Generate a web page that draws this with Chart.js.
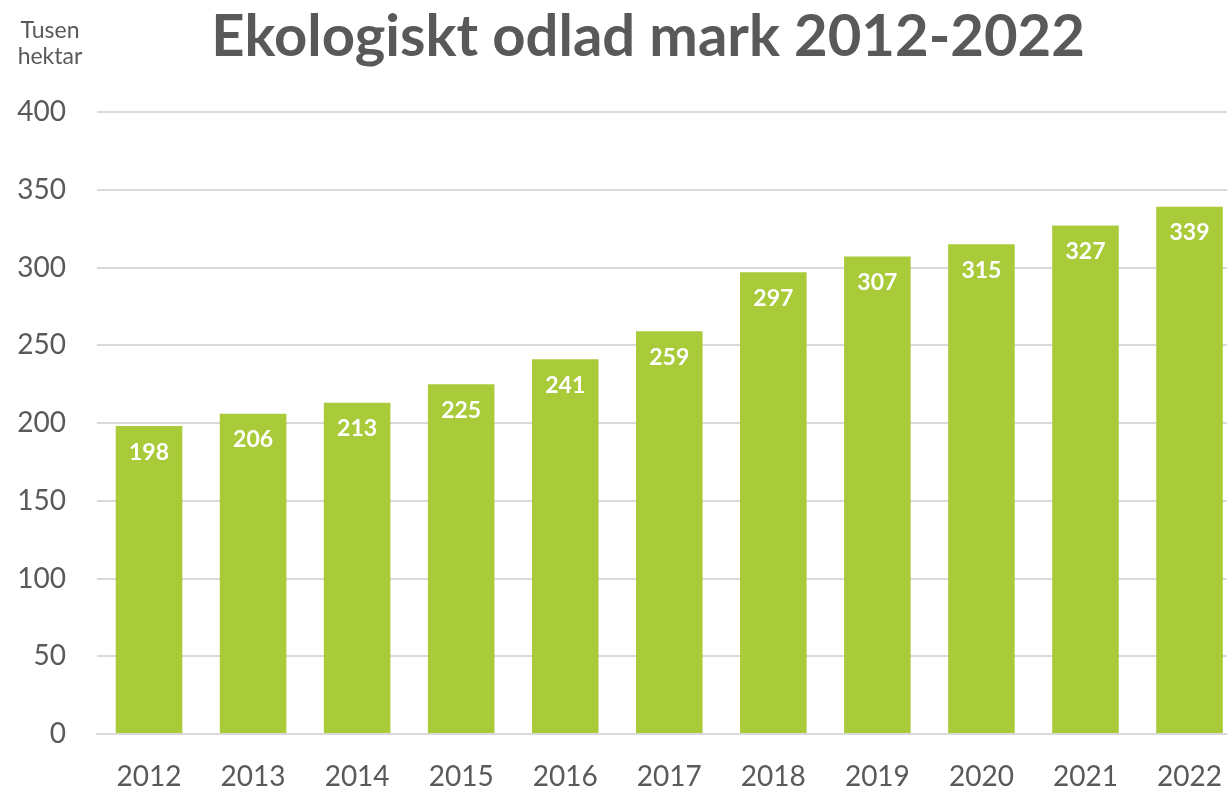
<!DOCTYPE html>
<html>
<head>
<meta charset="utf-8">
<script src="https://cdn.jsdelivr.net/npm/chart.js@4/dist/chart.umd.min.js"></script>
<style>
html,body{margin:0;padding:0;background:#fff;overflow:hidden;}
#wrap{width:1227px;height:787px;position:relative;overflow:hidden;}
#c{position:absolute;left:0;top:0;}
</style>
</head>
<body>
<div id="wrap"><canvas id="c" width="1248" height="787"></canvas></div>
<script>
const categories = ['2012','2013','2014','2015','2016','2017','2018','2019','2020','2021','2022'];
const values = [198,206,213,225,241,259,297,307,315,327,339];
const yTicks = [0,50,100,150,200,250,300,350,400];
const titleText = 'Ekologiskt odlad mark 2012-2022';
const unitLines = ['Tusen','hektar'];

const FONT = 'Lato, "Open Sans", sans-serif';
const GREY = '#595959';

const labelsPlugin = {
  id: 'extras',
  afterDatasetsDraw(chart) {
    const ctx = chart.ctx;
    const meta = chart.getDatasetMeta(0);
    ctx.save();
    ctx.fillStyle = '#ffffff';
    ctx.font = 'bold 23px ' + FONT;
    ctx.textAlign = 'center';
    ctx.textBaseline = 'middle';
    meta.data.forEach((bar, i) => {
      ctx.fillText(String(values[i]), bar.x, bar.y + 26);
    });
    ctx.restore();
  },
  afterDraw(chart) {
    const ctx = chart.ctx;
    ctx.save();
    ctx.fillStyle = GREY;
    ctx.textAlign = 'center';
    ctx.textBaseline = 'alphabetic';
    ctx.font = 'bold 58px ' + FONT;
    ctx.fillText(titleText, 648, 56);
    ctx.font = '23px ' + FONT;
    ctx.fillText(unitLines[0], 50, 38);
    ctx.fillText(unitLines[1], 50, 64);
    ctx.restore();
  }
};

new Chart(document.getElementById('c'), {
  type: 'bar',
  data: {
    labels: categories,
    datasets: [{
      data: values,
      backgroundColor: '#A9CB3A',
      borderWidth: 0,
      barPercentage: 0.64,
      categoryPercentage: 1.0
    }]
  },
  options: {
    responsive: false,
    animation: false,
    devicePixelRatio: 1,
    layout: { padding: { top: 112, right: 0, left: 0, bottom: 0 } },
    plugins: { legend: { display: false }, title: { display: false }, tooltip: { enabled: false } },
    scales: {
      x: {
        grid: { display: false, drawTicks: false },
        border: { display: true, color: '#D9D9D9', width: 2 },
        ticks: { color: GREY, font: { family: FONT, size: 28 }, padding: 26, maxRotation: 0 },
        afterFit(scale) { scale.height = 53; }
      },
      y: {
        min: 0, max: 400,
        afterBuildTicks(scale) { scale.ticks = yTicks.map(v => ({ value: v })); },
        grid: { color: '#D9D9D9', lineWidth: 2, drawTicks: false },
        border: { display: false },
        ticks: { color: GREY, font: { family: FONT, size: 28 }, padding: 31 },
        afterFit(scale) { scale.width = 97; }
      }
    }
  },
  plugins: [labelsPlugin]
});
</script>
</body>
</html>
